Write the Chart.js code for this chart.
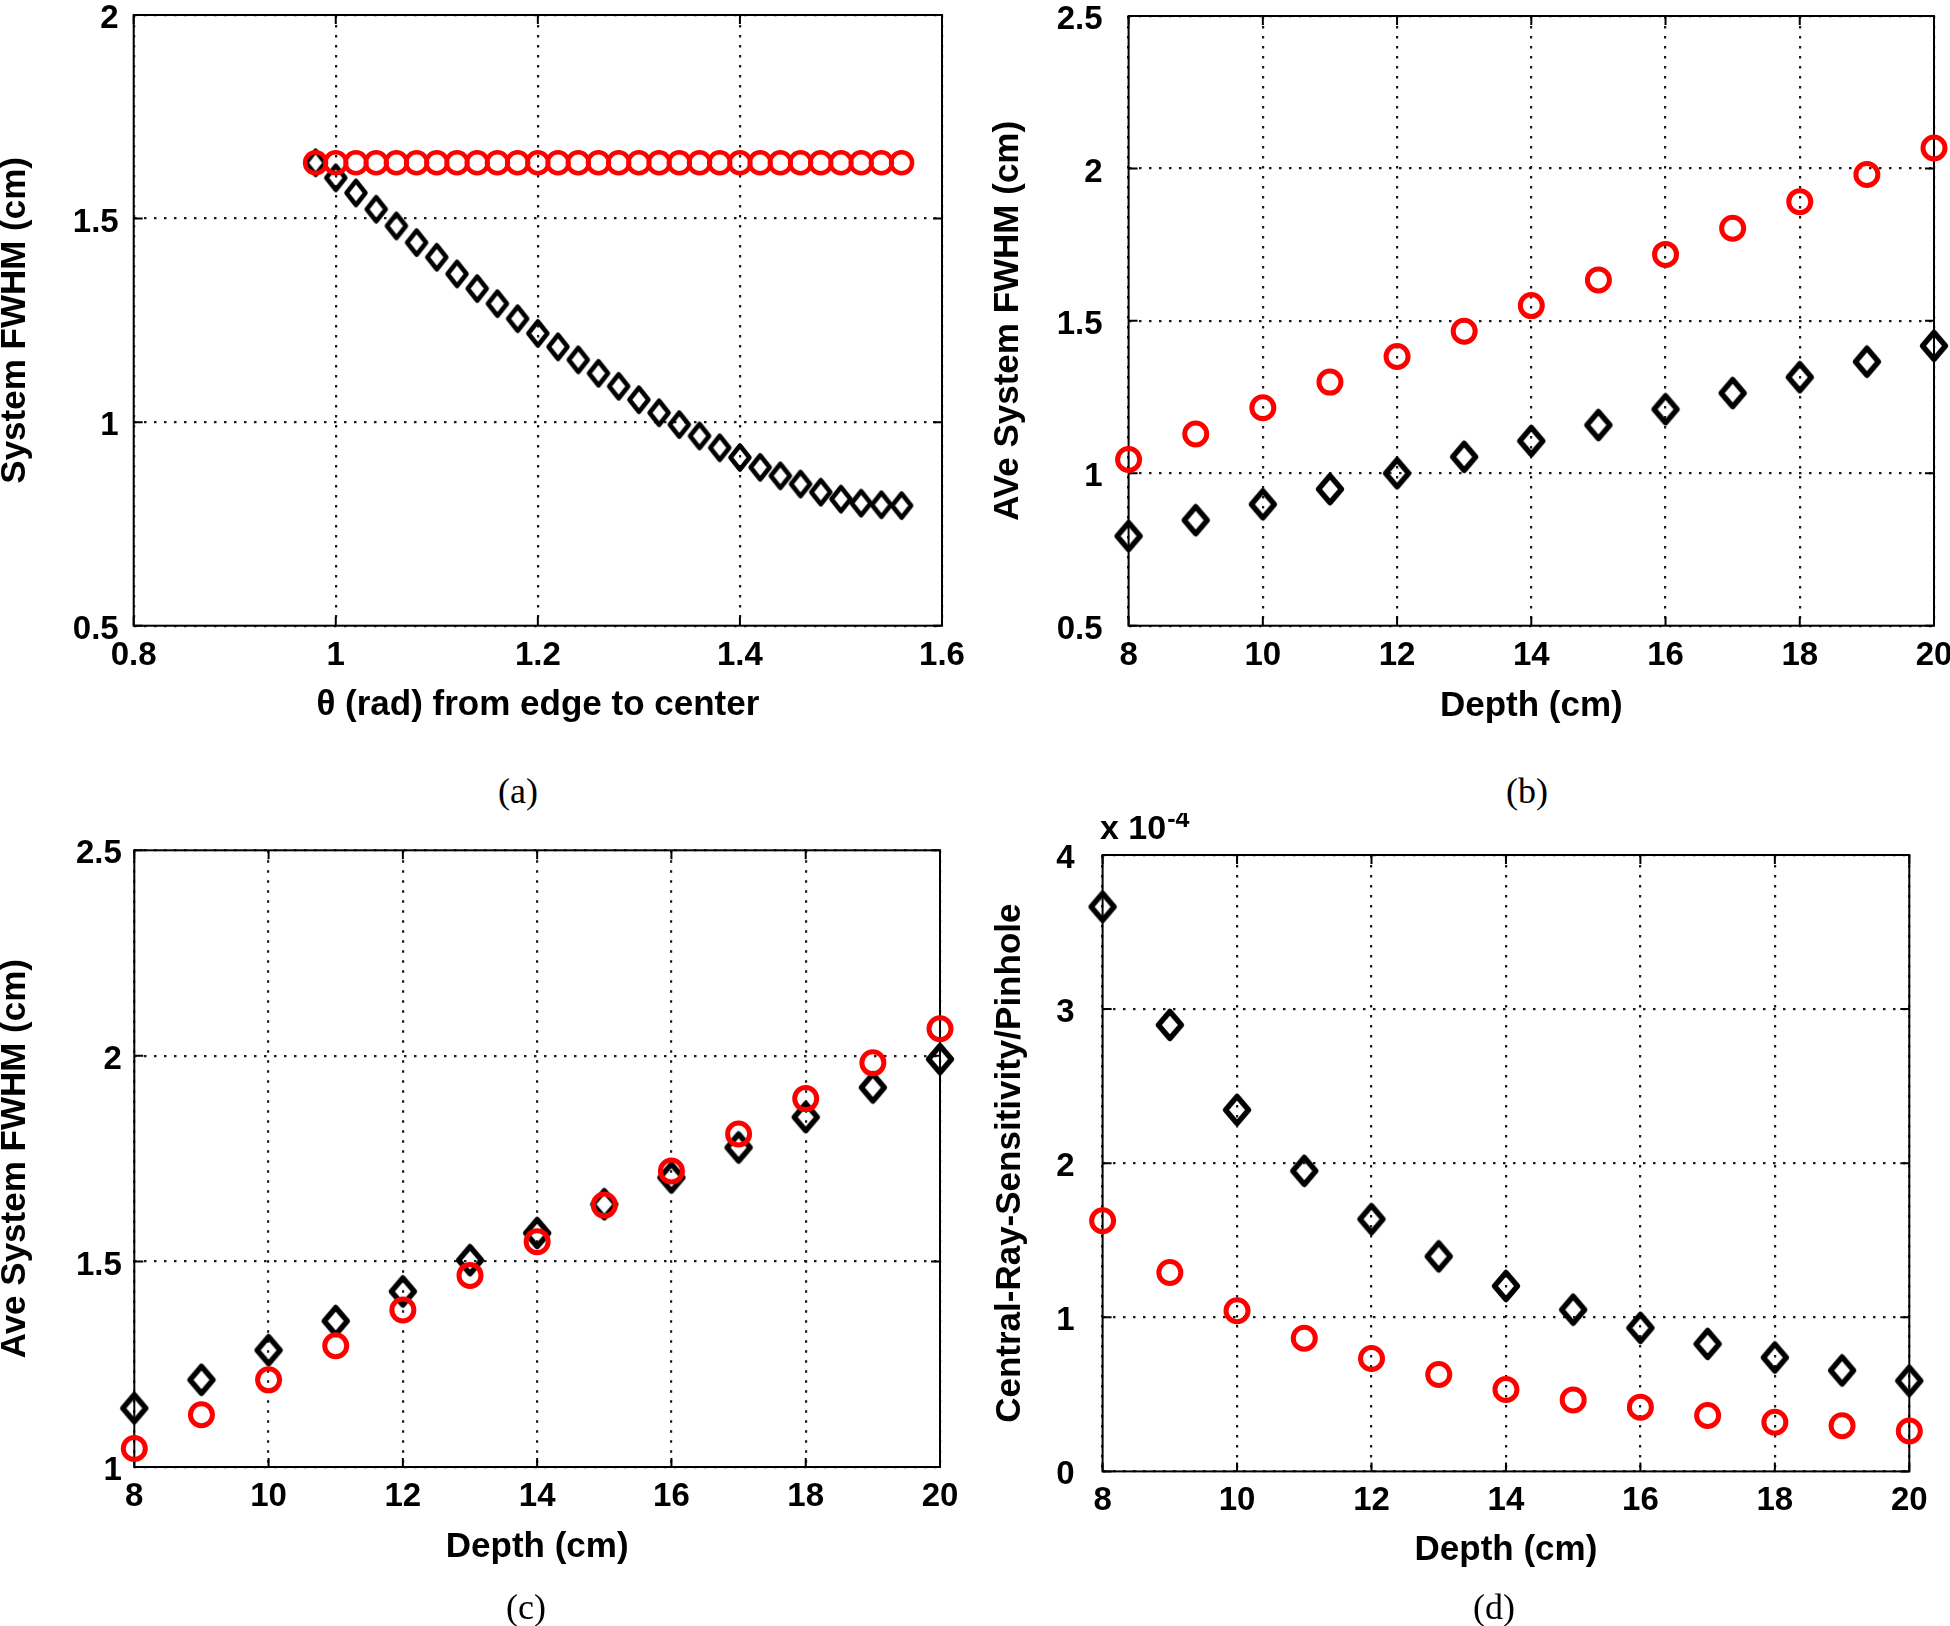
<!DOCTYPE html>
<html>
<head>
<meta charset="utf-8">
<script src="https://cdn.jsdelivr.net/npm/chart.js@4/dist/chart.umd.min.js"></script>
<style>
html,body{margin:0;padding:0;background:#fff;}
body{width:1950px;height:1626px;position:relative;overflow:hidden;}
canvas{position:absolute;}
.fig{position:absolute;font-family:"Liberation Serif","Times New Roman",serif;font-size:36px;color:#000;transform:translate(-50%,-50%);white-space:nowrap;z-index:5;}
</style>
</head>
<body>
<script>
// ---------------- DATA ----------------
// Panel (a): theta (rad) vs System FWHM (cm)
const thetaA = [0.98,1.00,1.02,1.04,1.06,1.08,1.10,1.12,1.14,1.16,1.18,1.20,1.22,1.24,1.26,1.28,1.30,1.32,1.34,1.36,1.38,1.40,1.42,1.44,1.46,1.48,1.50,1.52,1.54,1.56];
const redA   = [1.637,1.637,1.637,1.637,1.637,1.637,1.637,1.637,1.637,1.637,1.637,1.637,1.637,1.637,1.637,1.637,1.637,1.637,1.637,1.637,1.637,1.637,1.637,1.637,1.637,1.637,1.637,1.637,1.637,1.637];
const blackA = [1.637,1.600,1.563,1.523,1.482,1.441,1.405,1.364,1.328,1.291,1.254,1.218,1.185,1.153,1.120,1.088,1.055,1.023,0.994,0.966,0.937,0.913,0.889,0.868,0.848,0.828,0.811,0.801,0.797,0.795];

// Depth (cm) for panels (b), (c), (d)
const depth = [8,9,10,11,12,13,14,15,16,17,18,19,20];
// Panel (b): AVe System FWHM (cm)
const redB   = [1.045,1.129,1.215,1.299,1.383,1.466,1.550,1.634,1.718,1.804,1.891,1.980,2.067];
const blackB = [0.794,0.846,0.898,0.948,1.000,1.054,1.106,1.158,1.210,1.263,1.315,1.366,1.418];
// Panel (c): Ave System FWHM (cm)
const redC   = [1.045,1.127,1.212,1.295,1.382,1.466,1.548,1.637,1.720,1.810,1.896,1.983,2.066];
const blackC = [1.143,1.212,1.284,1.355,1.427,1.503,1.569,1.639,1.704,1.777,1.851,1.923,1.992];
// Panel (d): Central-Ray-Sensitivity/Pinhole, in units of 10^-4
const redD   = [1.627,1.291,1.042,0.864,0.733,0.629,0.531,0.464,0.417,0.363,0.319,0.296,0.262];
const blackD = [3.664,2.897,2.346,1.950,1.637,1.395,1.203,1.049,0.931,0.827,0.739,0.655,0.588];

// Tick values and labels
const xTicksA = [0.8,1,1.2,1.4,1.6];
const xLabelsA = ['0.8','1','1.2','1.4','1.6'];
const yTicksA = [0.5,1,1.5,2];
const yLabelsA = ['0.5','1','1.5','2'];
const xTicksDepth = [8,10,12,14,16,18,20];
const xLabelsDepth = ['8','10','12','14','16','18','20'];
const yTicksB = [0.5,1,1.5,2,2.5];
const yLabelsB = ['0.5','1','1.5','2','2.5'];
const yTicksC = [1,1.5,2,2.5];
const yLabelsC = ['1','1.5','2','2.5'];
const yTicksD = [0,1,2,3,4];
const yLabelsD = ['0','1','2','3','4'];

// ---------------- RENDERING ----------------
const FONT = '"Liberation Sans", Arial, Helvetica, sans-serif';
Chart.defaults.color = '#000';
Chart.defaults.font.family = FONT;

function makeDiamond(w, h, lw) {
  const c = document.createElement('canvas');
  c.width = Math.ceil(w + lw * 2); c.height = Math.ceil(h + lw * 2);
  const g = c.getContext('2d');
  const cx = c.width / 2, cy = c.height / 2;
  g.strokeStyle = '#000'; g.lineWidth = lw; g.lineJoin = 'round';
  g.beginPath();
  g.moveTo(cx, cy - h / 2); g.lineTo(cx + w / 2, cy); g.lineTo(cx, cy + h / 2); g.lineTo(cx - w / 2, cy);
  g.closePath(); g.stroke();
  return c;
}

const framePlugin = {
  id: 'frame',
  beforeDatasetsDraw(chart) {
    const {ctx, chartArea: a} = chart;
    const x = chart.scales.x, y = chart.scales.y;
    ctx.save();
    ctx.strokeStyle = '#000';
    ctx.lineWidth = 2;
    ctx.setLineDash([]);
    ctx.strokeRect(a.left, a.top, a.right - a.left, a.bottom - a.top);
    const tl = 9;
    ctx.beginPath();
    x.ticks.forEach(t => {
      const px = x.getPixelForValue(t.value);
      ctx.moveTo(px, a.bottom); ctx.lineTo(px, a.bottom - tl);
      ctx.moveTo(px, a.top); ctx.lineTo(px, a.top + tl);
    });
    y.ticks.forEach(t => {
      const py = y.getPixelForValue(t.value);
      ctx.moveTo(a.left, py); ctx.lineTo(a.left + tl, py);
      ctx.moveTo(a.right, py); ctx.lineTo(a.right - tl, py);
    });
    ctx.stroke();
    ctx.restore();
  }
};

const exponentPlugin = {
  id: 'exponent',
  afterDraw(chart) {
    const {ctx, chartArea: a} = chart;
    ctx.save();
    ctx.fillStyle = '#000';
    ctx.textBaseline = 'alphabetic';
    ctx.textAlign = 'left';
    ctx.font = 'bold 34px ' + FONT;
    const base = 'x 10';
    const x0 = a.left - 2.6;
    ctx.fillText(base, x0, a.top - 16);
    const w = ctx.measureText(base).width;
    ctx.font = 'bold 25px ' + FONT;
    ctx.fillText('-4', x0 + w + 1, a.top - 28);
    ctx.restore();
  }
};

function makePanel(p) {
  const cv = document.createElement('canvas');
  cv.width = p.cw; cv.height = p.ch;
  cv.style.left = p.cx + 'px'; cv.style.top = p.cy + 'px';
  cv.style.width = p.cw + 'px'; cv.style.height = p.ch + 'px';
  document.body.appendChild(cv);
  const yW = p.L - p.cx;
  const xH = p.cy + p.ch - p.B;
  const padTop = p.T - p.cy;
  const padRight = p.cx + p.cw - p.R;
  const tickFont = {family: FONT, size: 33, weight: 'bold', lineHeight: 1.2};
  const titleFont = {family: FONT, size: 35, weight: 'bold', lineHeight: 1};
  const grid = {display: true, drawOnChartArea: true, drawTicks: false, color: '#1a1a1a', lineWidth: 2.2, borderDash: [2.5, 7.5]};
  const border = {display: false, dash: [2.5, 7.5]};
  const zero = s => { s.paddingLeft = 0; s.paddingRight = 0; s.paddingTop = 0; s.paddingBottom = 0; };
  const plugins = [framePlugin];
  if (p.exponent) plugins.push(exponentPlugin);
  new Chart(cv, {
    type: 'scatter',
    data: {
      datasets: [
        {
          data: p.xs.map((x, i) => ({x: x, y: p.red[i]})),
          showLine: false, clip: false,
          pointStyle: 'circle', pointRadius: p.cr, pointBorderWidth: p.cbw,
          pointBorderColor: '#ff0000', pointBackgroundColor: 'rgba(0,0,0,0)'
        },
        {
          data: p.xs.map((x, i) => ({x: x, y: p.black[i]})),
          showLine: false, clip: false,
          pointStyle: p.diamond, pointRadius: 13,
          pointBorderColor: '#000', pointBackgroundColor: 'rgba(0,0,0,0)'
        }
      ]
    },
    options: {
      responsive: false, animation: false, events: [],
      layout: {padding: {left: 0, top: padTop, right: padRight, bottom: 0}},
      plugins: {legend: {display: false}, tooltip: {enabled: false}},
      scales: {
        x: {
          type: 'linear', position: 'bottom', min: p.xMin, max: p.xMax,
          afterBuildTicks: s => { s.ticks = p.xTicks.map(v => ({value: v})); },
          afterFit: s => { s.height = xH; zero(s); },
          ticks: {font: tickFont, color: '#000', padding: 10, maxRotation: 0, autoSkip: false,
                  callback: (v, i) => p.xLabels[i]},
          grid: grid, border: border,
          title: {display: true, text: p.xTitle, font: titleFont, color: '#000',
                  padding: {top: 0, bottom: p.cy + p.ch - p.xTy - 17.5}}
        },
        y: {
          type: 'linear', position: 'left', min: p.yMin, max: p.yMax,
          afterBuildTicks: s => { s.ticks = p.yTicks.map(v => ({value: v})); },
          afterFit: s => { s.width = yW; zero(s); },
          ticks: {font: tickFont, color: '#000', padding: p.yPad, autoSkip: false, labelOffset: 4,
                  callback: (v, i) => p.yLabels[i]},
          grid: grid, border: border,
          title: {display: true, text: p.yTitle, font: titleFont, color: '#000',
                  padding: {top: p.yTx - p.cx - 17.5, bottom: 0}}
        }
      }
    },
    plugins: plugins
  });
}

const diamondSmall = makeDiamond(19, 24, 4.5);
const diamondBig = makeDiamond(23, 27, 5.5);

makePanel({cx: 0, cy: 0, cw: 975, ch: 730, L: 133.7, T: 9.3, R: 942, B: 625.7,
  xs: thetaA, red: redA, black: blackA, xMin: 0.8, xMax: 1.6, yMin: 0.5, yMax: 2,
  xTicks: xTicksA, xLabels: xLabelsA, yTicks: yTicksA, yLabels: yLabelsA,
  xTitle: 'θ (rad) from edge to center', yTitle: 'System FWHM (cm)',
  xTy: 705, yTx: 15.5, yPad: 15, cr: 10.5, cbw: 4.5, diamond: diamondSmall});

makePanel({cx: 975, cy: 0, cw: 975, ch: 730, L: 1128.6, T: 9.3, R: 1935.8, B: 625.7,
  xs: depth, red: redB, black: blackB, xMin: 8, xMax: 20, yMin: 0.5, yMax: 2.5,
  xTicks: xTicksDepth, xLabels: xLabelsDepth, yTicks: yTicksB, yLabels: yLabelsB,
  xTitle: 'Depth (cm)', yTitle: 'AVe System FWHM (cm)',
  xTy: 706, yTx: 1008, yPad: 26, cr: 11, cbw: 5, diamond: diamondBig});

makePanel({cx: 0, cy: 813, cw: 975, ch: 813, L: 134.3, T: 850.3, R: 940, B: 1467,
  xs: depth, red: redC, black: blackC, xMin: 8, xMax: 20, yMin: 1, yMax: 2.5,
  xTicks: xTicksDepth, xLabels: xLabelsDepth, yTicks: yTicksC, yLabels: yLabelsC,
  xTitle: 'Depth (cm)', yTitle: 'Ave System FWHM (cm)',
  xTy: 1547.6, yTx: 15.5, yPad: 12.5, cr: 11, cbw: 5, diamond: diamondBig});

makePanel({cx: 975, cy: 813, cw: 975, ch: 813, L: 1102.6, T: 855, R: 1909.3, B: 1471.4,
  xs: depth, red: redD, black: blackD, xMin: 8, xMax: 20, yMin: 0, yMax: 4,
  xTicks: xTicksDepth, xLabels: xLabelsDepth, yTicks: yTicksD, yLabels: yLabelsD,
  xTitle: 'Depth (cm)', yTitle: 'Central-Ray-Sensitivity/Pinhole',
  xTy: 1550, yTx: 1010, yPad: 28, cr: 11, cbw: 5, diamond: diamondBig, exponent: true});

// Figure sub-labels
[['(a)', 518, 791], ['(b)', 1527, 791], ['(c)', 526, 1607], ['(d)', 1494, 1607]].forEach(([t, x, y]) => {
  const d = document.createElement('div');
  d.className = 'fig'; d.textContent = t;
  d.style.left = x + 'px'; d.style.top = y + 'px';
  document.body.appendChild(d);
});
</script>
</body>
</html>
